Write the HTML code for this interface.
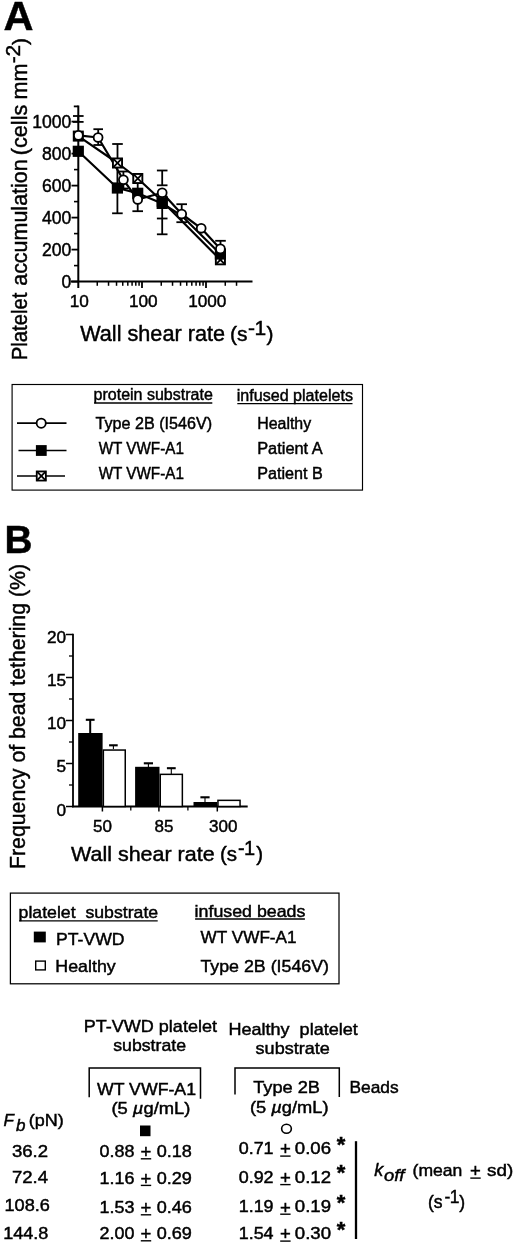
<!DOCTYPE html>
<html lang="en"><head><meta charset="utf-8"><title>Figure</title>
<style>html,body{margin:0;padding:0;background:#fff}svg{display:block}text{fill:#000;stroke:#000;stroke-width:0.45px}</style></head><body>
<svg width="520" height="1245" viewBox="0 0 520 1245" font-family="'Liberation Sans', Arial, Helvetica, sans-serif">
<rect width="520" height="1245" fill="#fff"/>
<text x="3.5" y="30" font-size="41.3" textLength="30" lengthAdjust="spacingAndGlyphs" font-weight="bold">A</text>
<g transform="translate(26.7,359) rotate(-90)">
<text x="-1.2" y="0" font-size="21.5" textLength="67.5" lengthAdjust="spacingAndGlyphs">Platelet</text>
<text x="73.2" y="0" font-size="21.5" textLength="126.5" lengthAdjust="spacingAndGlyphs">accumulation</text>
<text x="203.7" y="0" font-size="21.5" textLength="50.7" lengthAdjust="spacingAndGlyphs">(cells</text>
<text x="259.5" y="0" font-size="21.5" textLength="36.0" lengthAdjust="spacingAndGlyphs">mm</text>
<text x="295.8" y="-6.7" font-size="21">-</text>
<text x="302.6" y="-6.7" font-size="21">2</text>
<text x="313.9" y="0" font-size="21">)</text>
</g>
<line x1="78.3" y1="105.5" x2="78.3" y2="288.0" stroke="#000" stroke-width="2" />
<line x1="71" y1="281.6" x2="252.5" y2="281.6" stroke="#000" stroke-width="2" />
<line x1="71.5" y1="281.6" x2="78.3" y2="281.6" stroke="#000" stroke-width="1.8" />
<line x1="74" y1="265.6" x2="78.3" y2="265.6" stroke="#000" stroke-width="1.6" />
<line x1="71.5" y1="249.60000000000002" x2="78.3" y2="249.60000000000002" stroke="#000" stroke-width="1.8" />
<line x1="74" y1="233.60000000000002" x2="78.3" y2="233.60000000000002" stroke="#000" stroke-width="1.6" />
<line x1="71.5" y1="217.60000000000002" x2="78.3" y2="217.60000000000002" stroke="#000" stroke-width="1.8" />
<line x1="74" y1="201.60000000000002" x2="78.3" y2="201.60000000000002" stroke="#000" stroke-width="1.6" />
<line x1="71.5" y1="185.60000000000002" x2="78.3" y2="185.60000000000002" stroke="#000" stroke-width="1.8" />
<line x1="74" y1="169.60000000000002" x2="78.3" y2="169.60000000000002" stroke="#000" stroke-width="1.6" />
<line x1="71.5" y1="153.60000000000002" x2="78.3" y2="153.60000000000002" stroke="#000" stroke-width="1.8" />
<line x1="74" y1="137.60000000000002" x2="78.3" y2="137.60000000000002" stroke="#000" stroke-width="1.6" />
<line x1="71.5" y1="121.60000000000002" x2="78.3" y2="121.60000000000002" stroke="#000" stroke-width="1.8" />
<line x1="73.8" y1="106.4" x2="78.3" y2="106.4" stroke="#000" stroke-width="1.8" />
<text x="71.3" y="287.90000000000003" font-size="17.6" text-anchor="end">0</text>
<text x="71.3" y="255.90000000000003" font-size="17.6" text-anchor="end">200</text>
<text x="71.3" y="223.90000000000003" font-size="17.6" text-anchor="end">400</text>
<text x="71.3" y="191.90000000000003" font-size="17.6" text-anchor="end">600</text>
<text x="71.3" y="159.90000000000003" font-size="17.6" text-anchor="end">800</text>
<text x="71.3" y="127.90000000000002" font-size="17.6" text-anchor="end">1000</text>
<line x1="97.2659197224948" y1="281.6" x2="97.2659197224948" y2="285.8" stroke="#000" stroke-width="1.5" />
<line x1="108.53576030205839" y1="281.6" x2="108.53576030205839" y2="285.8" stroke="#000" stroke-width="1.5" />
<line x1="116.5318394449896" y1="281.6" x2="116.5318394449896" y2="285.8" stroke="#000" stroke-width="1.5" />
<line x1="122.7340802775052" y1="281.6" x2="122.7340802775052" y2="285.8" stroke="#000" stroke-width="1.5" />
<line x1="127.80168002455319" y1="281.6" x2="127.80168002455319" y2="285.8" stroke="#000" stroke-width="1.5" />
<line x1="132.08627456091244" y1="281.6" x2="132.08627456091244" y2="285.8" stroke="#000" stroke-width="1.5" />
<line x1="135.7977591674844" y1="281.6" x2="135.7977591674844" y2="285.8" stroke="#000" stroke-width="1.5" />
<line x1="139.07152060411678" y1="281.6" x2="139.07152060411678" y2="285.8" stroke="#000" stroke-width="1.5" />
<line x1="142.0" y1="281.6" x2="142.0" y2="288.0" stroke="#000" stroke-width="1.8" />
<line x1="161.2659197224948" y1="281.6" x2="161.2659197224948" y2="285.8" stroke="#000" stroke-width="1.5" />
<line x1="172.5357603020584" y1="281.6" x2="172.5357603020584" y2="285.8" stroke="#000" stroke-width="1.5" />
<line x1="180.5318394449896" y1="281.6" x2="180.5318394449896" y2="285.8" stroke="#000" stroke-width="1.5" />
<line x1="186.7340802775052" y1="281.6" x2="186.7340802775052" y2="285.8" stroke="#000" stroke-width="1.5" />
<line x1="191.8016800245532" y1="281.6" x2="191.8016800245532" y2="285.8" stroke="#000" stroke-width="1.5" />
<line x1="196.08627456091244" y1="281.6" x2="196.08627456091244" y2="285.8" stroke="#000" stroke-width="1.5" />
<line x1="199.7977591674844" y1="281.6" x2="199.7977591674844" y2="285.8" stroke="#000" stroke-width="1.5" />
<line x1="203.07152060411678" y1="281.6" x2="203.07152060411678" y2="285.8" stroke="#000" stroke-width="1.5" />
<line x1="206.0" y1="281.6" x2="206.0" y2="288.0" stroke="#000" stroke-width="1.8" />
<line x1="225.2659197224948" y1="281.6" x2="225.2659197224948" y2="285.8" stroke="#000" stroke-width="1.5" />
<line x1="236.5357603020584" y1="281.6" x2="236.5357603020584" y2="285.8" stroke="#000" stroke-width="1.5" />
<text x="79.3" y="307.3" font-size="17.2" text-anchor="middle">10</text>
<text x="143.3" y="307.3" font-size="17.2" text-anchor="middle">100</text>
<text x="207.3" y="307.3" font-size="17.2" text-anchor="middle">1000</text>
<text x="80.2" y="340.6" font-size="21.7" textLength="144.8" lengthAdjust="spacingAndGlyphs">Wall shear rate</text>
<text x="230" y="340.6" font-size="21">(s</text>
<text x="247.9" y="334.6" font-size="21">-</text>
<text x="254.5" y="334.6" font-size="21">1</text>
<text x="266.6" y="340.6" font-size="21">)</text>
<line x1="78.3" y1="116" x2="78.3" y2="121.9" stroke="#000" stroke-width="1.8" />
<line x1="73.0" y1="116" x2="83.6" y2="116" stroke="#000" stroke-width="1.8" />
<line x1="73.0" y1="121.9" x2="83.6" y2="121.9" stroke="#000" stroke-width="1.8" />
<line x1="98.2" y1="129.2" x2="98.2" y2="145" stroke="#000" stroke-width="1.8" />
<line x1="93.4" y1="129.2" x2="103.0" y2="129.2" stroke="#000" stroke-width="1.8" />
<line x1="93.4" y1="145" x2="103.0" y2="145" stroke="#000" stroke-width="1.8" />
<line x1="117.5" y1="144" x2="117.5" y2="162" stroke="#000" stroke-width="1.8" />
<line x1="112.2" y1="144" x2="122.8" y2="144" stroke="#000" stroke-width="1.8" />
<line x1="117.4" y1="163" x2="117.4" y2="213.3" stroke="#000" stroke-width="1.8" />
<line x1="112.10000000000001" y1="213.3" x2="122.7" y2="213.3" stroke="#000" stroke-width="1.8" />
<line x1="123.4" y1="171.5" x2="123.4" y2="188.5" stroke="#000" stroke-width="1.8" />
<line x1="118.2" y1="171.5" x2="128.6" y2="171.5" stroke="#000" stroke-width="1.8" />
<line x1="118.2" y1="188.5" x2="128.6" y2="188.5" stroke="#000" stroke-width="1.8" />
<line x1="137.7" y1="180" x2="137.7" y2="211.2" stroke="#000" stroke-width="1.8" />
<line x1="132.39999999999998" y1="211.2" x2="143.0" y2="211.2" stroke="#000" stroke-width="1.8" />
<line x1="162.2" y1="170.5" x2="162.2" y2="185.3" stroke="#000" stroke-width="1.8" />
<line x1="156.89999999999998" y1="170.5" x2="167.5" y2="170.5" stroke="#000" stroke-width="1.8" />
<line x1="156.89999999999998" y1="185.3" x2="167.5" y2="185.3" stroke="#000" stroke-width="1.8" />
<line x1="162.2" y1="200" x2="162.2" y2="218.5" stroke="#000" stroke-width="1.8" />
<line x1="156.89999999999998" y1="218.5" x2="167.5" y2="218.5" stroke="#000" stroke-width="1.8" />
<line x1="162.2" y1="218.5" x2="162.2" y2="234.3" stroke="#000" stroke-width="1.8" />
<line x1="156.89999999999998" y1="234.3" x2="167.5" y2="234.3" stroke="#000" stroke-width="1.8" />
<line x1="181.7" y1="204.2" x2="181.7" y2="222.2" stroke="#000" stroke-width="1.8" />
<line x1="176.39999999999998" y1="204.2" x2="187.0" y2="204.2" stroke="#000" stroke-width="1.8" />
<line x1="176.39999999999998" y1="222.2" x2="187.0" y2="222.2" stroke="#000" stroke-width="1.8" />
<line x1="220.5" y1="240.8" x2="220.5" y2="249" stroke="#000" stroke-width="1.8" />
<line x1="215.2" y1="240.8" x2="225.8" y2="240.8" stroke="#000" stroke-width="1.8" />
<polyline fill="none" stroke="#000" stroke-width="2.2" stroke-linejoin="round" points="78.3,136.1 117.5,163 137.8,178.5 162.2,201.3 220.4,259.8"/>
<polyline fill="none" stroke="#000" stroke-width="2.2" stroke-linejoin="round" points="78.3,151.3 117.4,188 137.7,193.3 162.2,203.4 181.7,215.7 220.4,254"/>
<polyline fill="none" stroke="#000" stroke-width="2.2" stroke-linejoin="round" points="78.4,135.4 98.1,137.5 123.4,179.8 137.7,199.5 162.2,192.8 181.7,214 201.2,228.3 220.4,248.9"/>
<rect x="73.75" y="131.54999999999998" width="9.1" height="9.1" fill="#fff" stroke="#000" stroke-width="1.9" />
<line x1="73.75" y1="131.54999999999998" x2="82.85" y2="140.65" stroke="#000" stroke-width="1.8" />
<line x1="73.75" y1="140.65" x2="82.85" y2="131.54999999999998" stroke="#000" stroke-width="1.8" />
<rect x="112.95" y="158.45" width="9.1" height="9.1" fill="#fff" stroke="#000" stroke-width="1.9" />
<line x1="112.95" y1="158.45" x2="122.05" y2="167.55" stroke="#000" stroke-width="1.8" />
<line x1="112.95" y1="167.55" x2="122.05" y2="158.45" stroke="#000" stroke-width="1.8" />
<rect x="133.25" y="173.95" width="9.1" height="9.1" fill="#fff" stroke="#000" stroke-width="1.9" />
<line x1="133.25" y1="173.95" x2="142.35000000000002" y2="183.05" stroke="#000" stroke-width="1.8" />
<line x1="133.25" y1="183.05" x2="142.35000000000002" y2="173.95" stroke="#000" stroke-width="1.8" />
<rect x="157.64999999999998" y="196.75" width="9.1" height="9.1" fill="#fff" stroke="#000" stroke-width="1.9" />
<line x1="157.64999999999998" y1="196.75" x2="166.75" y2="205.85000000000002" stroke="#000" stroke-width="1.8" />
<line x1="157.64999999999998" y1="205.85000000000002" x2="166.75" y2="196.75" stroke="#000" stroke-width="1.8" />
<rect x="215.85" y="255.25" width="9.1" height="9.1" fill="#fff" stroke="#000" stroke-width="1.9" />
<line x1="215.85" y1="255.25" x2="224.95000000000002" y2="264.35" stroke="#000" stroke-width="1.8" />
<line x1="215.85" y1="264.35" x2="224.95000000000002" y2="255.25" stroke="#000" stroke-width="1.8" />
<rect x="72.7" y="145.70000000000002" width="11.2" height="11.2" fill="#000" />
<rect x="111.80000000000001" y="182.4" width="11.2" height="11.2" fill="#000" />
<rect x="132.1" y="187.70000000000002" width="11.2" height="11.2" fill="#000" />
<rect x="156.6" y="197.8" width="11.2" height="11.2" fill="#000" />
<rect x="214.8" y="248.4" width="11.2" height="11.2" fill="#000" />
<circle cx="78.4" cy="135.4" r="4.45" fill="#fff" stroke="#000" stroke-width="1.8"/>
<circle cx="98.1" cy="137.5" r="4.45" fill="#fff" stroke="#000" stroke-width="1.8"/>
<circle cx="123.4" cy="179.8" r="4.45" fill="#fff" stroke="#000" stroke-width="1.8"/>
<circle cx="137.7" cy="199.5" r="4.45" fill="#fff" stroke="#000" stroke-width="1.8"/>
<circle cx="162.2" cy="192.8" r="4.45" fill="#fff" stroke="#000" stroke-width="1.8"/>
<circle cx="181.7" cy="214" r="4.45" fill="#fff" stroke="#000" stroke-width="1.8"/>
<circle cx="201.2" cy="228.3" r="4.45" fill="#fff" stroke="#000" stroke-width="1.8"/>
<circle cx="220.4" cy="248.9" r="4.45" fill="#fff" stroke="#000" stroke-width="1.8"/>
<rect x="12.1" y="384.5" width="350.4" height="105.6" fill="none" stroke="#000" stroke-width="1.15" />
<text x="93.6" y="400" font-size="16" textLength="119.2" lengthAdjust="spacingAndGlyphs">protein substrate</text>
<line x1="94.1" y1="403.0" x2="212.3" y2="403.0" stroke="#000" stroke-width="1.3" />
<text x="236.8" y="400.6" font-size="16" textLength="116.2" lengthAdjust="spacingAndGlyphs">infused platelets</text>
<line x1="237.3" y1="403.6" x2="352.5" y2="403.6" stroke="#000" stroke-width="1.3" />
<line x1="17" y1="423.2" x2="66.5" y2="423.2" stroke="#000" stroke-width="1.7" />
<line x1="18.5" y1="450.5" x2="66.5" y2="450.5" stroke="#000" stroke-width="1.7" />
<line x1="17" y1="476" x2="65" y2="476" stroke="#000" stroke-width="1.7" />
<circle cx="41.2" cy="423.2" r="4.6" fill="#fff" stroke="#000" stroke-width="1.8"/>
<rect x="35.9" y="445.1" width="10.8" height="10.8" fill="#000" />
<rect x="36.75" y="471.45" width="9.1" height="9.1" fill="#fff" stroke="#000" stroke-width="1.8" />
<line x1="36.75" y1="471.45" x2="45.849999999999994" y2="480.55" stroke="#000" stroke-width="1.8" />
<line x1="36.75" y1="480.55" x2="45.849999999999994" y2="471.45" stroke="#000" stroke-width="1.8" />
<text x="95.6" y="428.6" font-size="16" textLength="116.5" lengthAdjust="spacingAndGlyphs">Type 2B (I546V)</text>
<text x="98.7" y="453.7" font-size="16" textLength="85.2" lengthAdjust="spacingAndGlyphs">WT VWF-A1</text>
<text x="98.7" y="479.2" font-size="16" textLength="85.2" lengthAdjust="spacingAndGlyphs">WT VWF-A1</text>
<text x="257.2" y="429.4" font-size="16" textLength="54" lengthAdjust="spacingAndGlyphs">Healthy</text>
<text x="257.2" y="453.7" font-size="16" textLength="65.5" lengthAdjust="spacingAndGlyphs">Patient A</text>
<text x="257.2" y="479.2" font-size="16" textLength="65.5" lengthAdjust="spacingAndGlyphs">Patient B</text>
<text x="4.5" y="552.8" font-size="38.8" textLength="28" lengthAdjust="spacingAndGlyphs" font-weight="bold">B</text>
<g transform="translate(24.6,869) rotate(-90)">
<text x="0" y="0" font-size="22" textLength="305" lengthAdjust="spacingAndGlyphs">Frequency of bead tethering (%)</text>
</g>
<line x1="73" y1="633.75" x2="73" y2="807.25" stroke="#000" stroke-width="1.8" />
<line x1="72.1" y1="806.5" x2="247.7" y2="806.5" stroke="#000" stroke-width="1.9" />
<line x1="66" y1="806.5" x2="73" y2="806.5" stroke="#000" stroke-width="1.5" />
<text x="66" y="816.0" font-size="17.2" text-anchor="end">0</text>
<line x1="66" y1="763.5" x2="73" y2="763.5" stroke="#000" stroke-width="1.5" />
<text x="66" y="772.1" font-size="17.2" text-anchor="end">5</text>
<line x1="66" y1="720.5" x2="73" y2="720.5" stroke="#000" stroke-width="1.5" />
<text x="66" y="729.1" font-size="17.2" text-anchor="end">10</text>
<line x1="66" y1="677.5" x2="73" y2="677.5" stroke="#000" stroke-width="1.5" />
<text x="66" y="686.1" font-size="17.2" text-anchor="end">15</text>
<line x1="66" y1="634.5" x2="73" y2="634.5" stroke="#000" stroke-width="1.5" />
<text x="66" y="643.1" font-size="17.2" text-anchor="end">20</text>
<line x1="69" y1="785.0" x2="73" y2="785.0" stroke="#000" stroke-width="1.3" />
<line x1="69" y1="742.0" x2="73" y2="742.0" stroke="#000" stroke-width="1.3" />
<line x1="69" y1="699.0" x2="73" y2="699.0" stroke="#000" stroke-width="1.3" />
<line x1="69" y1="656.0" x2="73" y2="656.0" stroke="#000" stroke-width="1.3" />
<line x1="102.4" y1="806.5" x2="102.4" y2="811.5" stroke="#000" stroke-width="1.5" />
<line x1="158.9" y1="806.5" x2="158.9" y2="811.5" stroke="#000" stroke-width="1.5" />
<line x1="217.3" y1="806.5" x2="217.3" y2="811.5" stroke="#000" stroke-width="1.5" />
<line x1="130.8" y1="806.5" x2="130.8" y2="810.5" stroke="#000" stroke-width="1.3" />
<line x1="187.9" y1="806.5" x2="187.9" y2="810.5" stroke="#000" stroke-width="1.3" />
<rect x="78.2" y="733" width="24.39999999999999" height="73.5" fill="#000" />
<rect x="103.35" y="750.05" width="21.900000000000006" height="56.450000000000045" fill="#fff" stroke="#000" stroke-width="1.5" />
<rect x="135.1" y="766.8" width="24.400000000000006" height="39.700000000000045" fill="#000" />
<rect x="160.25" y="774.35" width="22.099999999999994" height="32.14999999999998" fill="#fff" stroke="#000" stroke-width="1.5" />
<rect x="193.5" y="802" width="23.69999999999999" height="4.5" fill="#000" />
<rect x="217.95" y="800.35" width="22.100000000000023" height="6.149999999999977" fill="#fff" stroke="#000" stroke-width="1.5" />
<line x1="90.2" y1="719.8" x2="90.2" y2="733" stroke="#000" stroke-width="2.0" />
<line x1="85.8" y1="719.8" x2="94.60000000000001" y2="719.8" stroke="#000" stroke-width="2.1" />
<line x1="113.4" y1="745.3" x2="113.4" y2="749" stroke="#000" stroke-width="1.1" />
<line x1="109.10000000000001" y1="745.3" x2="117.7" y2="745.3" stroke="#000" stroke-width="2.1" />
<line x1="148.4" y1="763.3" x2="148.4" y2="767" stroke="#000" stroke-width="1.1" />
<line x1="143.8" y1="763.3" x2="153.0" y2="763.3" stroke="#000" stroke-width="2.1" />
<line x1="171.3" y1="768.2" x2="171.3" y2="774" stroke="#000" stroke-width="1.1" />
<line x1="166.9" y1="768.2" x2="175.70000000000002" y2="768.2" stroke="#000" stroke-width="2.1" />
<line x1="205" y1="797.3" x2="205" y2="802" stroke="#000" stroke-width="1.1" />
<line x1="200.4" y1="797.3" x2="209.6" y2="797.3" stroke="#000" stroke-width="2.1" />
<text x="102.5" y="832" font-size="17" text-anchor="middle">50</text>
<text x="164" y="832" font-size="17" text-anchor="middle">85</text>
<text x="223.3" y="832" font-size="17" text-anchor="middle">300</text>
<text x="71" y="861" font-size="20.5" textLength="143.6" lengthAdjust="spacingAndGlyphs">Wall shear rate</text>
<text x="220" y="861" font-size="20.5">(s</text>
<text x="238.1" y="855.3" font-size="20">-</text>
<text x="244.1" y="855.3" font-size="20">1</text>
<text x="256.2" y="861" font-size="20.5">)</text>
<rect x="10.4" y="893.1" width="328.6" height="90.7" fill="none" stroke="#000" stroke-width="1.25" />
<text x="18.6" y="918.4" font-size="17" textLength="139.6" lengthAdjust="spacingAndGlyphs" style="white-space:pre">platelet  substrate</text>
<line x1="19.1" y1="920.8" x2="157.7" y2="920.8" stroke="#000" stroke-width="1.3" />
<text x="194.6" y="916.6" font-size="17" textLength="110.8" lengthAdjust="spacingAndGlyphs">infused beads</text>
<line x1="195.1" y1="919.0" x2="304.9" y2="919.0" stroke="#000" stroke-width="1.3" />
<rect x="33.8" y="931.6" width="12" height="10.8" fill="#000" />
<rect x="35.7" y="961.1" width="9.6" height="8.8" fill="#fff" stroke="#000" stroke-width="1.4" />
<text x="56" y="944.9" font-size="17" textLength="68.6" lengthAdjust="spacingAndGlyphs">PT-VWD</text>
<text x="55.3" y="971.7" font-size="17" textLength="60.4" lengthAdjust="spacingAndGlyphs">Healthy</text>
<text x="200.6" y="942.5" font-size="17" textLength="96" lengthAdjust="spacingAndGlyphs">WT VWF-A1</text>
<text x="200.4" y="971.8" font-size="17" textLength="128.6" lengthAdjust="spacingAndGlyphs">Type 2B (I546V)</text>
<text x="83.7" y="1031.5" font-size="17" textLength="133.3" lengthAdjust="spacingAndGlyphs">PT-VWD platelet</text>
<text x="113.2" y="1051" font-size="17" textLength="72.8" lengthAdjust="spacingAndGlyphs">substrate</text>
<text x="228.4" y="1035" font-size="17" textLength="129.4" lengthAdjust="spacingAndGlyphs" style="white-space:pre">Healthy  platelet</text>
<text x="255.6" y="1054" font-size="17" textLength="74.2" lengthAdjust="spacingAndGlyphs">substrate</text>
<polyline fill="none" stroke="#000" stroke-width="1.5" points="89.2,1097.3 89.2,1068 200.5,1068 200.5,1098.7"/>
<polyline fill="none" stroke="#000" stroke-width="1.5" points="235,1094.5 235,1068 339.3,1068 339.3,1097"/>
<text x="97" y="1095.2" font-size="17" textLength="99" lengthAdjust="spacingAndGlyphs">WT VWF-A1</text>
<text x="111.4" y="1114.3" font-size="16.5" textLength="79" lengthAdjust="spacingAndGlyphs">(5 <tspan font-style="italic">µ</tspan>g/mL)</text>
<text x="253.2" y="1093" font-size="17" textLength="66.8" lengthAdjust="spacingAndGlyphs">Type 2B</text>
<text x="250" y="1113" font-size="16.5" textLength="78.6" lengthAdjust="spacingAndGlyphs">(5 <tspan font-style="italic">µ</tspan>g/mL)</text>
<text x="349.5" y="1093" font-size="17" textLength="49.2" lengthAdjust="spacingAndGlyphs">Beads</text>
<rect x="140" y="1125.5" width="10.5" height="10.7" fill="#000" />
<ellipse cx="286.5" cy="1128.7" rx="4.85" ry="4.5" fill="#fff" stroke="#000" stroke-width="1.6"/>
<text x="3.6" y="1125.5" font-size="17" font-style="italic">F</text>
<text x="16" y="1130.5" font-size="17" font-style="italic">b</text>
<text x="28.8" y="1125.5" font-size="17" textLength="35" lengthAdjust="spacingAndGlyphs">(pN)</text>
<text x="11.9" y="1156.6" font-size="16.5" textLength="36.1" lengthAdjust="spacingAndGlyphs">36.2</text>
<text x="11.9" y="1183.2" font-size="16.5" textLength="36.1" lengthAdjust="spacingAndGlyphs">72.4</text>
<text x="4.5" y="1211.2" font-size="16.5" textLength="45.4" lengthAdjust="spacingAndGlyphs">108.6</text>
<text x="3.2" y="1238.7" font-size="16.5" textLength="45.2" lengthAdjust="spacingAndGlyphs">144.8</text>
<text x="99.6" y="1156.9" font-size="16.5" textLength="34.9" lengthAdjust="spacingAndGlyphs">0.88</text>
<text x="146" y="1158.1000000000001" font-size="18.5" text-anchor="middle">+</text>
<line x1="140.8" y1="1158.8000000000002" x2="151.2" y2="1158.8000000000002" stroke="#000" stroke-width="1.4" />
<text x="156.7" y="1156.9" font-size="16.5" textLength="35.2" lengthAdjust="spacingAndGlyphs">0.18</text>
<text x="99.6" y="1183.5" font-size="16.5" textLength="34.9" lengthAdjust="spacingAndGlyphs">1.16</text>
<text x="146" y="1184.7" font-size="18.5" text-anchor="middle">+</text>
<line x1="140.8" y1="1185.4" x2="151.2" y2="1185.4" stroke="#000" stroke-width="1.4" />
<text x="156.7" y="1183.5" font-size="16.5" textLength="35.2" lengthAdjust="spacingAndGlyphs">0.29</text>
<text x="99.6" y="1212.9" font-size="16.5" textLength="34.9" lengthAdjust="spacingAndGlyphs">1.53</text>
<text x="146" y="1214.1000000000001" font-size="18.5" text-anchor="middle">+</text>
<line x1="140.8" y1="1214.8000000000002" x2="151.2" y2="1214.8000000000002" stroke="#000" stroke-width="1.4" />
<text x="156.7" y="1212.9" font-size="16.5" textLength="35.2" lengthAdjust="spacingAndGlyphs">0.46</text>
<text x="99.6" y="1238.9" font-size="16.5" textLength="34.9" lengthAdjust="spacingAndGlyphs">2.00</text>
<text x="146" y="1240.1000000000001" font-size="18.5" text-anchor="middle">+</text>
<line x1="140.8" y1="1240.8000000000002" x2="151.2" y2="1240.8000000000002" stroke="#000" stroke-width="1.4" />
<text x="156.7" y="1238.9" font-size="16.5" textLength="35.2" lengthAdjust="spacingAndGlyphs">0.69</text>
<text x="238.7" y="1154.2" font-size="16.5" textLength="34.9" lengthAdjust="spacingAndGlyphs">0.71</text>
<text x="285.4" y="1155.4" font-size="18.5" text-anchor="middle">+</text>
<line x1="280.2" y1="1156.1000000000001" x2="290.59999999999997" y2="1156.1000000000001" stroke="#000" stroke-width="1.4" />
<text x="294.8" y="1154.2" font-size="16.5" textLength="36.2" lengthAdjust="spacingAndGlyphs">0.06</text>
<text x="238.7" y="1182.7" font-size="16.5" textLength="34.9" lengthAdjust="spacingAndGlyphs">0.92</text>
<text x="285.4" y="1183.9" font-size="18.5" text-anchor="middle">+</text>
<line x1="280.2" y1="1184.6000000000001" x2="290.59999999999997" y2="1184.6000000000001" stroke="#000" stroke-width="1.4" />
<text x="294.8" y="1182.7" font-size="16.5" textLength="36.2" lengthAdjust="spacingAndGlyphs">0.12</text>
<text x="238.7" y="1212.3" font-size="16.5" textLength="34.9" lengthAdjust="spacingAndGlyphs">1.19</text>
<text x="285.4" y="1213.5" font-size="18.5" text-anchor="middle">+</text>
<line x1="280.2" y1="1214.2" x2="290.59999999999997" y2="1214.2" stroke="#000" stroke-width="1.4" />
<text x="294.8" y="1212.3" font-size="16.5" textLength="36.2" lengthAdjust="spacingAndGlyphs">0.19</text>
<text x="238.7" y="1239.2" font-size="16.5" textLength="34.9" lengthAdjust="spacingAndGlyphs">1.54</text>
<text x="285.4" y="1240.4" font-size="18.5" text-anchor="middle">+</text>
<line x1="280.2" y1="1241.1000000000001" x2="290.59999999999997" y2="1241.1000000000001" stroke="#000" stroke-width="1.4" />
<text x="294.8" y="1239.2" font-size="16.5" textLength="36.2" lengthAdjust="spacingAndGlyphs">0.30</text>
<text x="341" y="1151.8999999999999" font-size="22" text-anchor="middle" font-weight="bold">*</text>
<text x="341" y="1179.8" font-size="22" text-anchor="middle" font-weight="bold">*</text>
<text x="341" y="1210.1" font-size="22" text-anchor="middle" font-weight="bold">*</text>
<text x="341" y="1236.5" font-size="22" text-anchor="middle" font-weight="bold">*</text>
<line x1="356" y1="1141.2" x2="356" y2="1239" stroke="#000" stroke-width="2.3" />
<text x="374.2" y="1176.2" font-size="18" font-style="italic">k</text>
<text x="384" y="1180.8" font-size="16" textLength="20.5" lengthAdjust="spacingAndGlyphs" font-style="italic">off</text>
<text x="412.6" y="1176.2" font-size="17" textLength="49.8" lengthAdjust="spacingAndGlyphs">(mean</text>
<text x="475.5" y="1177.4" font-size="18.5" text-anchor="middle">+</text>
<line x1="470.3" y1="1178.1000000000001" x2="480.7" y2="1178.1000000000001" stroke="#000" stroke-width="1.4" />
<text x="487" y="1176.2" font-size="17" textLength="26.2" lengthAdjust="spacingAndGlyphs">sd)</text>
<text x="428" y="1207.6" font-size="17.5">(s</text>
<text x="444.5" y="1202.5" font-size="17.5">-</text>
<text x="449.8" y="1202.5" font-size="17.5">1</text>
<text x="459.2" y="1207.6" font-size="17.5">)</text>
</svg></body></html>
